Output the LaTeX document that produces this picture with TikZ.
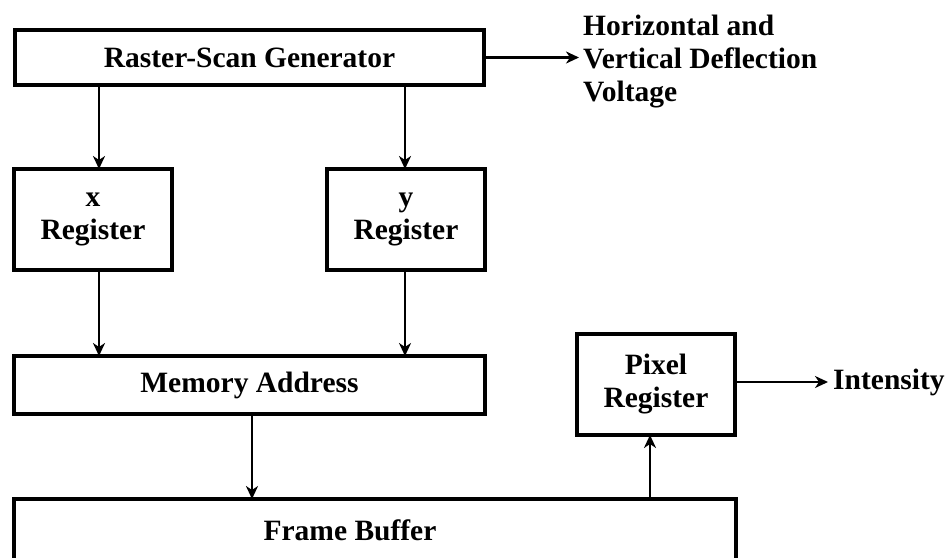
\documentclass[tikz,border=0pt]{standalone}
\usepackage{fontspec}
\setmainfont{Liberation Serif}
\usetikzlibrary{arrows.meta}
\begin{document}
\begin{tikzpicture}[x=1pt,y=-1pt,
  blk/.style={draw, line width=3.5pt, rectangle, outer sep=0pt, inner sep=0pt, align=center,
    font=\bfseries\fontsize{29.5}{33}\selectfont},
  txt/.style={align=left, inner sep=0pt, font=\bfseries\fontsize{29.5}{33}\selectfont},
  arr/.style={line width=2.4pt, -{Stealth[length=13pt,width=12pt,inset=4pt]}}]
\useasboundingbox (0,0) rectangle (945,557);
\clip (0,0) rectangle (945,557);
\node[blk, minimum width=469pt, minimum height=55pt] (rsg) at (249.5,57.5) {Raster-Scan Generator};
\node[blk, minimum width=158pt, minimum height=101pt] (xr) at (93,219.5) {x\\Register};
\node[blk, minimum width=158pt, minimum height=101pt] (yr) at (406,219.5) {y\\Register};
\node[blk, minimum width=471pt, minimum height=58pt] (ma) at (249.5,385) {Memory Address};
\node[blk, minimum width=722pt, minimum height=84pt] (fb) at (375,541) {};
\node[txt] (fbt) at (350,530) {Frame Buffer};
\node[blk, minimum width=158pt, minimum height=101pt] (pr) at (656,384.5) {Pixel\\Register};
\node[txt, anchor=west] (hv) at (583,62) {Horizontal and\\Vertical Deflection\\Voltage};
\node[txt, anchor=west] (int) at (833,382) {Intensity};
\coordinate (cx) at (99,0);
\coordinate (cy) at (405,0);
\coordinate (cm) at (252,0);
\coordinate (cp) at (650,0);
\draw[arr] (rsg.south -| cx) -- (xr.north -| cx);
\draw[arr] (rsg.south -| cy) -- (yr.north -| cy);
\draw[arr] (xr.south -| cx) -- (ma.north -| cx);
\draw[arr] (yr.south -| cy) -- (ma.north -| cy);
\draw[arr] (ma.south -| cm) -- (fb.north -| cm);
\draw[arr] (fb.north -| cp) -- (pr.south -| cp);
\draw[arr] (rsg.east) -- ([xshift=-4pt]rsg.east -| hv.west);
\draw[arr] (pr.east |- int.west) -- ([xshift=-5pt]int.west);
\end{tikzpicture}
\end{document}
